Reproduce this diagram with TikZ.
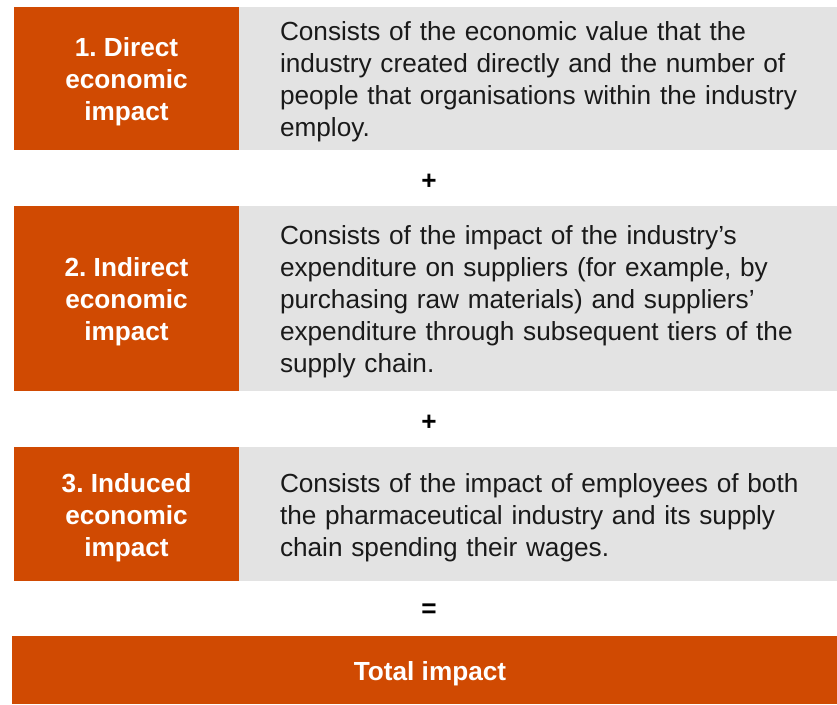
\documentclass[tikz,border=0pt]{standalone}
\usepackage{fontspec}
\setmainfont{Liberation Sans}
\usetikzlibrary{positioning,calc}
\frenchspacing
\definecolor{brand}{HTML}{D04A02}
\definecolor{panel}{HTML}{E3E3E3}
\definecolor{ink}{HTML}{1A1A1A}
\tikzset{
  base/.style={inner sep=0pt, outer sep=0pt, font=\fontsize{26.2}{32}\selectfont},
  block/.style={base, fill=brand, anchor=north west},
  shade/.style={base, fill=panel, anchor=north west},
  head/.style={base, text=white, font=\fontsize{26.2}{32}\selectfont\bfseries, align=center},
  desc/.style={base, text=ink, align=left, text width=540pt, anchor=west},
  op/.style={font=\fontsize{26.2}{32}\selectfont\bfseries, text=black},
}

\begin{document}
\begin{tikzpicture}[x=1pt, y=-1pt]
    \useasboundingbox (0,0) rectangle (837,704);
    \foreach \i/\y/\h/\l/\t in {1/7/143/{1. Direct\\economic\\impact}/{Consists of the economic value that the\\industry created directly and the number of\\people that organisations within the industry\\employ.},
                                2/206/185/{2. Indirect\\economic\\impact}/{Consists of the impact of the industry’s\\expenditure on suppliers (for example, by\\purchasing raw materials) and suppliers’\\expenditure through subsequent tiers of the\\supply chain.},
                                3/447/134/{3. Induced\\economic\\impact}/{Consists of the impact of employees of both\\the pharmaceutical industry and its supply\\chain spending their wages.}} {
      \node[block, minimum width=225pt, minimum height=\h pt] (lab\i) at (14,\y) {};
      \node[shade, minimum width=610pt, minimum height=\h pt] (txt\i) at (lab\i.north east) {};
      \node[head] (head\i) at ($(lab\i.center)+(0,3.5)$) {\l};
      \node[desc] (body\i) at ($(txt\i.west)+(41,3.5)$) {\t};
    }
    \node[op] (plus1) at (429,182) {+};
    \node[op] (plus2) at (429,423) {+};
    \node[op] (equals) at (429,611) {=};
    \node[block, minimum width=836pt, minimum height=68pt] (total) at (12,636) {};
    \node[head] (sum) at ($(total.center)+(0,3.5)$) {Total impact};
  \end{tikzpicture}
\end{document}
